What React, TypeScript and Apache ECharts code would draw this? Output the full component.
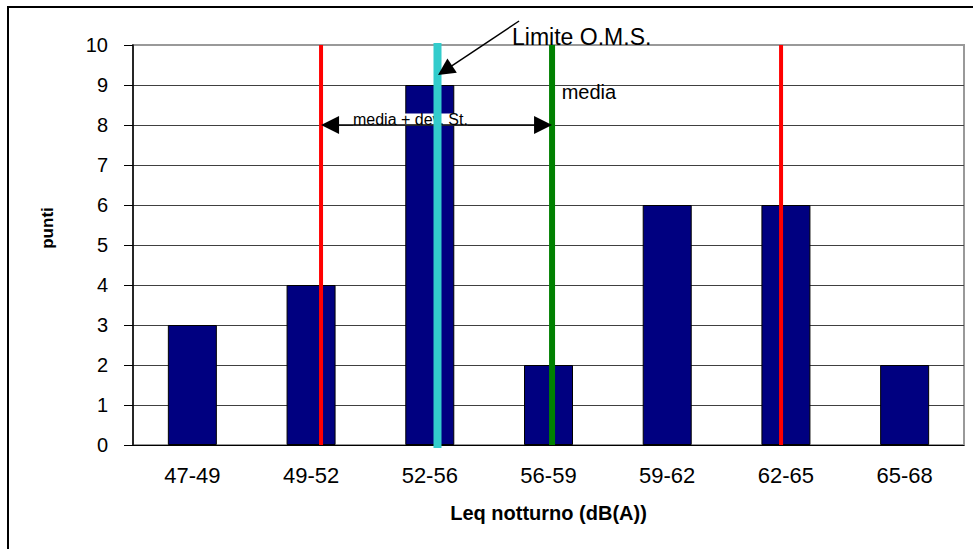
import React, { useEffect, useRef } from "react";
import * as echarts from "echarts";

const categories = ["47-49", "49-52", "52-56", "56-59", "59-62", "62-65", "65-68"];
const counts = [3, 4, 9, 2, 6, 6, 2];
// reference line positions, in category units (0 = left edge of first class, 7 = right edge)
const redLow = 1.584;
const omsLimit = 2.565;
const mean = 3.53;
const redHigh = 5.459;
const arrowLevel = 8;
const omsArrowFrom = [3.252, 10.6];
const omsArrowTo = [2.569, 9.25];

const FONT = "'Liberation Sans', Arial, sans-serif";

export default function App() {
  const ref = useRef<HTMLDivElement>(null);
  useEffect(() => {
    const chart = echarts.init(ref.current!, null, { renderer: "svg" });
    const vline = (x: number, color: string, width: number, z: number, y0 = 0, y1 = 10) => ({
      type: "line",
      xAxisIndex: 1,
      yAxisIndex: 0,
      data: [
        [x, y0],
        [x, y1],
      ],
      symbol: "none",
      clip: false,
      silent: true,
      z,
      lineStyle: { color, width },
    });
    const baseSeries: any[] = [
      {
        type: "bar",
        data: counts,
        barWidth: 49,
        itemStyle: { color: "#000080", borderColor: "#000", borderWidth: 1 },
        z: 2,
        silent: true,
      },
      vline(redLow, "#FF0000", 4, 4),
      vline(redHigh, "#FF0000", 4, 4),
      vline(mean, "#008000", 6, 4),
      vline(omsLimit, "#33CCCC", 8, 6, -0.075, 10.05),
    ];
    const option: any = {
      animation: false,
      grid: {
        left: 133,
        top: 45,
        width: 831,
        height: 400,
        show: true,
        borderColor: "#999",
        borderWidth: 2,
        backgroundColor: "transparent",
      },
      xAxis: [
        {
          type: "category",
          data: categories,
          axisLine: { lineStyle: { color: "#000", width: 1 } },
          axisTick: { length: 7, lineStyle: { color: "#000" } },
          axisLabel: { color: "#000", fontSize: 22, fontFamily: FONT, margin: 19 },
          name: "Leq notturno (dB(A))",
          nameLocation: "middle",
          nameGap: 58,
          nameTextStyle: { color: "#000", fontSize: 20, fontWeight: "bold", fontFamily: FONT },
        },
        { type: "value", min: 0, max: 7, show: false },
      ],
      yAxis: {
        type: "value",
        min: 0,
        max: 10,
        interval: 1,
        axisLine: { show: true, lineStyle: { color: "#000", width: 1.5 } },
        axisTick: { show: true, length: 9, lineStyle: { color: "#000" } },
        axisLabel: { color: "#000", fontSize: 20, fontFamily: FONT, margin: 25 },
        splitLine: { show: true, showMaxLine: false, lineStyle: { color: "#404040", width: 1 } },
      },
      series: baseSeries,
    };
    chart.setOption(option);
    const px = (x: number, y: number) => chart.convertToPixel({ seriesIndex: 1 }, [x, y]) as number[];
    const fromPx = (p: number[]) => chart.convertFromPixel({ seriesIndex: 1 }, p) as number[];
    // pull the line ends back so that the (centred) arrow heads' tips land on the targets
    const inset = (a: number[], b: number[], ia: number, ib: number) => {
      const pa = px(a[0], a[1]);
      const pb = px(b[0], b[1]);
      const dx = pb[0] - pa[0];
      const dy = pb[1] - pa[1];
      const len = Math.hypot(dx, dy);
      const ux = dx / len;
      const uy = dy / len;
      return [fromPx([pa[0] + ux * ia, pa[1] + uy * ia]), fromPx([pb[0] - ux * ib, pb[1] - uy * ib])];
    };
    const devCoords = inset([redLow, arrowLevel], [mean, arrowLevel], 9, 9);
    const omsCoords = inset(omsArrowFrom, omsArrowTo, 0, 8.5);
    const pLim = px(3.193, 10.2);
    const pMedia = px(3.611, 8.825);
    const pDev = px(1.853, 8.14);
    chart.setOption({
      series: [
        ...baseSeries,
        {
          type: "lines",
          coordinateSystem: "cartesian2d",
          xAxisIndex: 1,
          yAxisIndex: 0,
          clip: false,
          silent: true,
          z: 5,
          symbol: ["triangle", "triangle"],
          symbolSize: 18,
          lineStyle: { color: "#000", width: 1.5, curveness: 0, opacity: 1 },
          data: [{ coords: devCoords }],
        },
        {
          type: "lines",
          coordinateSystem: "cartesian2d",
          xAxisIndex: 1,
          yAxisIndex: 0,
          clip: false,
          silent: true,
          z: 7,
          symbol: ["none", "triangle"],
          symbolSize: 17,
          lineStyle: { color: "#000", width: 1.5, curveness: 0, opacity: 1 },
          data: [{ coords: omsCoords }],
        },
      ],
      graphic: [
        {
          type: "rect",
          shape: { x: 8, y: 7, width: 1100, height: 700 },
          style: { fill: "none", stroke: "#000", lineWidth: 2 },
          silent: true,
        },
        {
          type: "text",
          x: pLim[0],
          y: pLim[1],
          z: 10,
          style: { text: "Limite O.M.S.", fontSize: 23, fontFamily: FONT, fill: "#000", align: "left", verticalAlign: "middle" },
        },
        {
          type: "text",
          x: pMedia[0],
          y: pMedia[1],
          z: 10,
          style: { text: "media", fontSize: 20, fontFamily: FONT, fill: "#000", align: "left", verticalAlign: "middle" },
        },
        {
          type: "text",
          x: pDev[0],
          y: pDev[1],
          z: 3,
          style: {
            text: "media + dev. St.",
            fontSize: 16,
            fontFamily: FONT,
            fill: "#000",
            align: "left",
            verticalAlign: "middle",
            backgroundColor: "#fff",
            lineHeight: 12,
          },
        },
        {
          type: "text",
          x: 47,
          y: 228,
          rotation: Math.PI / 2,
          style: { text: "punti", fontSize: 17, fontWeight: "bold", fontFamily: FONT, fill: "#000", align: "center", verticalAlign: "middle" },
        },
      ],
    });
    return () => chart.dispose();
  }, []);
  return <div ref={ref} style={{ position: "absolute", left: 0, top: 0, width: 973, height: 549 }} />;
}
